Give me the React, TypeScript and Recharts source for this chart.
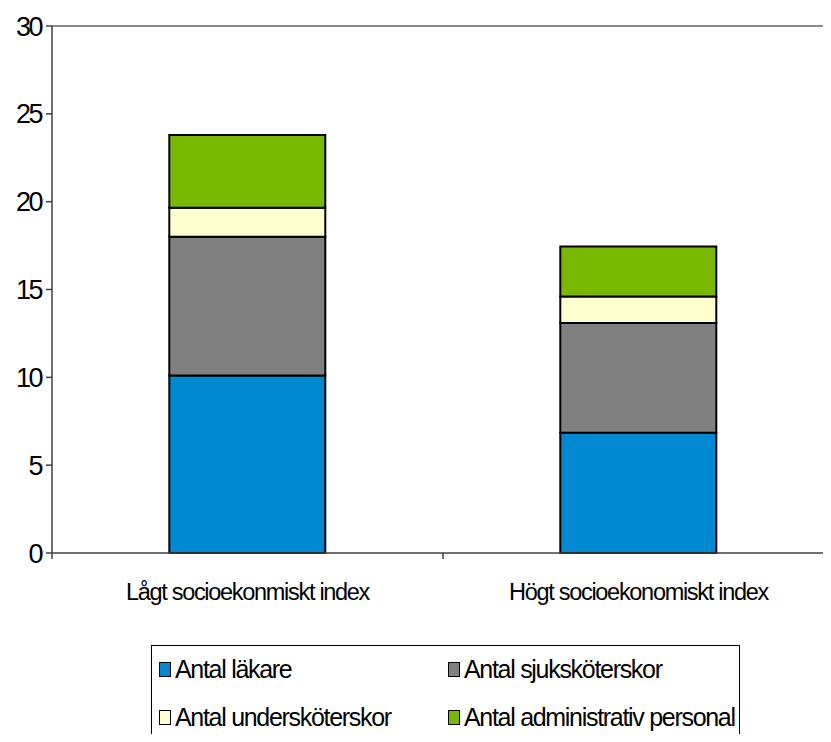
import React from "react";
import { BarChart, Bar, XAxis, YAxis, ReferenceLine, Legend } from "recharts";

// Kategorier och värden
const categories = ["Lågt socioekonmiskt index", "Högt socioekonomiskt index"];
const lakare = [10.1, 6.85];
const sjukskoterskor = [7.9, 6.25];
const underskoterskor = [1.65, 1.5];
const administrativ = [4.15, 2.85];
const yTicks = [0, 5, 10, 15, 20, 25, 30];

const series = [
  { key: "lakare", name: "Antal läkare", color: "#0088D0" },
  { key: "sjuk", name: "Antal sjuksköterskor", color: "#808080" },
  { key: "under", name: "Antal undersköterskor", color: "#FFFFD0" },
  { key: "admin", name: "Antal administrativ personal", color: "#78B800" },
];

const data = categories.map((name, i) => ({
  name,
  lakare: lakare[i],
  sjuk: sjukskoterskor[i],
  under: underskoterskor[i],
  admin: administrativ[i],
}));

const FONT = '"Liberation Sans", Arial, sans-serif';

// Kategori-tick: etikett i mitten, tickstreck vid kategorigränserna
function CatTick(props: any) {
  const { x, y, payload, index } = props;
  const half = payload?.offset ?? 0;
  return (
    <g>
      <line x1={x - half} x2={x - half} y1={y - 8} y2={y - 2} stroke="#404040" strokeWidth={1.5} />
      {index === categories.length - 1 && (
        <line x1={x + half} x2={x + half} y1={y - 8} y2={y - 2} stroke="#404040" strokeWidth={1.5} />
      )}
      <text x={x} y={y + 39} textAnchor="middle" fontSize={23.5} letterSpacing={-1.3} fill="#000" fontFamily={FONT}>
        {payload.value}
      </text>
    </g>
  );
}

function LegendBox() {
  return (
    <div
      style={{
        border: "1px solid #000",
        width: 589,
        height: 120,
        boxSizing: "border-box",
        background: "#fff",
        fontFamily: FONT,
        fontSize: 25,
        letterSpacing: -1.3,
        position: "relative",
      }}
    >
      {series.map((s, i) => (
        <div
          key={s.key}
          style={{
            position: "absolute",
            left: i % 2 === 0 ? 7 : 296,
            top: i < 2 ? 9 : 57,
            display: "flex",
            alignItems: "center",
            whiteSpace: "nowrap",
          }}
        >
          <span
            style={{
              display: "inline-block",
              width: 10,
              height: 13,
              background: s.color,
              border: "1.5px solid #000",
              marginRight: 4,
            }}
          />
          <span>{s.name}</span>
        </div>
      ))}
    </div>
  );
}

export default function App() {
  return (
    <div style={{ margin: -8, width: 831, height: 742, overflow: "hidden", position: "relative", background: "#fff" }}>
      <BarChart
        width={842}
        height={742}
        data={data}
        margin={{ top: 26, right: 8, left: 0, bottom: 149 }}
        barCategoryGap="30%"
      >
        <YAxis
          type="number"
          domain={[0, 30]}
          ticks={yTicks}
          width={52}
          axisLine={{ stroke: "#404040", strokeWidth: 1.5 }}
          tickLine={{ stroke: "#404040", strokeWidth: 1.5 }}
          tickSize={6}
          tickMargin={5}
          tick={{ fontSize: 27, fill: "#000", fontFamily: FONT, letterSpacing: -2.5 }}
        />
        <XAxis
          dataKey="name"
          height={40}
          axisLine={{ stroke: "#404040", strokeWidth: 1.5 }}
          tickLine={false}
          tick={<CatTick />}
          interval={0}
        />
        <ReferenceLine y={30} stroke="#8C8C8C" strokeWidth={2} />
        <Legend
          layout="horizontal"
          verticalAlign="middle"
          align="center"
          wrapperStyle={{ position: "absolute", left: 151, top: 645, width: 589, height: 120 }}
          content={() => <LegendBox />}
        />
        {series.map((s) => (
          <Bar
            key={s.key}
            dataKey={s.key}
            name={s.name}
            stackId="a"
            fill={s.color}
            stroke="#000"
            strokeWidth={2}
            isAnimationActive={false}
          />
        ))}
      </BarChart>
    </div>
  );
}
